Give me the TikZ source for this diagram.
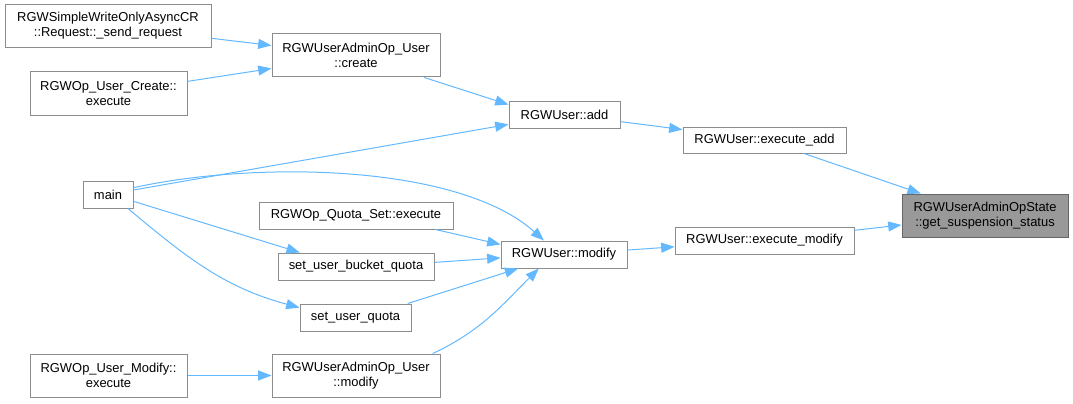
\documentclass[tikz,border=0pt]{standalone}
\usepackage{fontspec}
\setmainfont{Liberation Sans}
\usetikzlibrary{arrows.meta}
\definecolor{edgeblue}{HTML}{63B8FF}
\definecolor{boxgray}{HTML}{8C8C8C}
\definecolor{rootfill}{HTML}{999999}
\definecolor{rootdraw}{HTML}{666666}
\begin{document}
\begin{tikzpicture}[
	x=0.75pt, y=-0.75pt,
	fn/.style={rectangle, draw=boxgray, fill=white, line width=0.75pt,
		inner sep=0pt, align=center, font=\fontsize{9.7}{11.25}\selectfont,
		minimum height=20.25pt},
	fntwo/.style={fn, minimum height=32.25pt},
	root/.style={fntwo, fill=rootfill, draw=rootdraw},
	line/.style={draw=edgeblue, line width=0.75pt, -{Triangle[length=10pt, width=7.5pt]}},
	]
	\useasboundingbox (0,0) rectangle (1073,403);
	% Aufrufer links
	\node[fntwo, minimum width=154.5pt] (sendreq) at (108,26) {RGWSimpleWriteOnlyAsyncCR\\::Request::\_send\_request};
	\node[fntwo, minimum width=117.75pt] (createexec) at (108.5,93.5) {RGWOp\_User\_Create::\\execute};
	\node[fn, minimum width=37.5pt] (main) at (108,194.5) {main};
	\node[fntwo, minimum width=117.75pt] (modifyexec) at (108.5,375.5) {RGWOp\_User\_Modify::\\execute};
	% zweite Spalte
	\node[fntwo, minimum width=126pt] (admcreate) at (356,55.5) {RGWUserAdminOp\_User\\::create};
	\node[fn, minimum width=145.5pt] (quotaset) at (356,215.5) {RGWOp\_Quota\_Set::execute};
	\node[fn, minimum width=117pt] (bucketq) at (356,266.5) {set\_user\_bucket\_quota};
	\node[fn, minimum width=83.25pt] (userq) at (355.5,317.5) {set\_user\_quota};
	\node[fntwo, minimum width=126pt] (admmodify) at (356,375.5) {RGWUserAdminOp\_User\\::modify};
	% rechte Seite
	\node[fn, minimum width=83.25pt] (add) at (564.5,114.5) {RGWUser::add};
	\node[fn, minimum width=94.5pt] (umodify) at (564,254.5) {RGWUser::modify};
	\node[fn, minimum width=122.25pt, minimum height=19.5pt] (execadd) at (764.5,140) {RGWUser::execute\_add};
	\node[fn, minimum width=134.25pt] (execmod) at (764.5,240.5) {RGWUser::execute\_modify};
	\node[root, minimum width=124.5pt] (susp) at (985,215.5) {RGWUserAdminOpState\\::get\_suspension\_status};

	%Verbindungspfeile
	\path[line] (sendreq) -- (admcreate);
	\path[line] (createexec) -- (admcreate);
	\path[line] (admcreate) -- (add.170);
	\path[line] (main.10) -- (add.190);
	\path[line] (main.15) .. controls (260,160) and (460,165) .. (umodify.145);
	\path[line] (main.-15) -- (bucketq.166);
	\path[line] (main.-35) to[out=-40, in=165] (userq.170);
	\path[line] (quotaset.-10) -- (umodify.171);
	\path[line] (bucketq.3) -- (umodify.183);
	\path[line] (userq.15) -- (umodify.197);
	\path[line] (admmodify.16) to[out=25, in=-135] (umodify.209);
	\path[line] (modifyexec) -- (admmodify);
	\path[line] (add) -- (execadd);
	\path[line] (umodify) -- (execmod);
	\path[line] (execadd) -- (susp);
	\path[line] (execmod) -- (susp);
\end{tikzpicture}
\end{document}
